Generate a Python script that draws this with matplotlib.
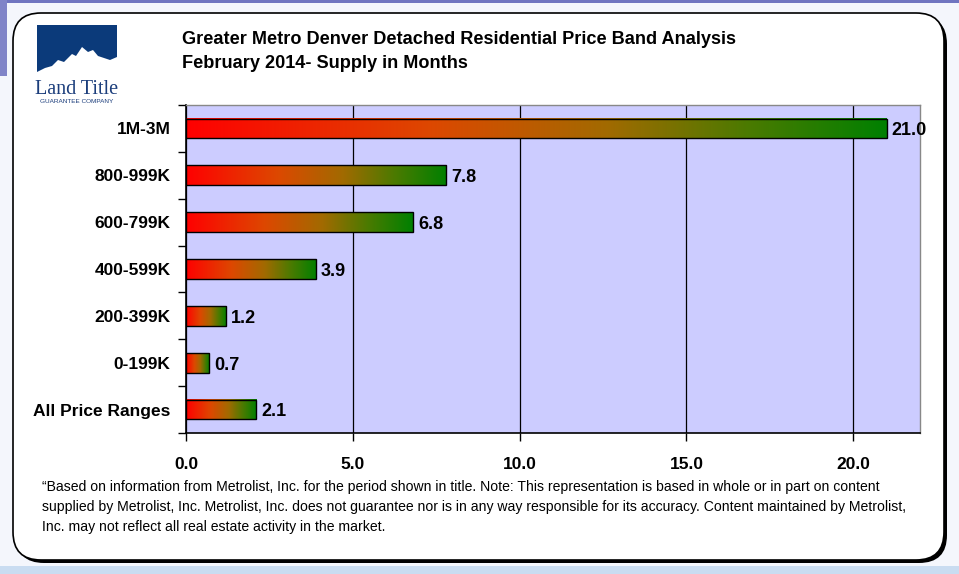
import numpy as np
import matplotlib.pyplot as plt
from matplotlib.patches import FancyBboxPatch, Rectangle, Polygon
from matplotlib.colors import LinearSegmentedColormap

# data
categories = ['1M-3M', '800-999K', '600-799K', '400-599K', '200-399K', '0-199K', 'All Price Ranges']
supply = [21.0, 7.8, 6.8, 3.9, 1.2, 0.7, 2.1]
xticks = [0, 5, 10, 15, 20]

title_lines = ['Greater Metro Denver Detached Residential Price Band Analysis',
               'February 2014- Supply in Months']
footnote = ['\u201cBased on information from Metrolist, Inc. for the period shown in title. Note: This representation is based in whole or in part on content',
            'supplied by Metrolist, Inc. Metrolist, Inc. does not guarantee nor is in any way responsible for its accuracy. Content maintained by Metrolist,',
            'Inc. may not reflect all real estate activity in the market.']

W, H = 959, 574
fig = plt.figure(figsize=(W / 100, H / 100), dpi=100)
fig.patch.set_facecolor('#f4f6fc')

# background frame (figure pixel coords)
bg = fig.add_axes([0, 0, 1, 1])
bg.set_xlim(0, W)
bg.set_ylim(H, 0)
bg.axis('off')
bg.add_patch(Rectangle((0, 0), W, 2.5, color='#7075c0', lw=0))
bg.add_patch(Rectangle((0, 0), 7, 76, color='#8084c8', lw=0))
bg.add_patch(Rectangle((0, 566), W, 8, color='#c9dcf1', lw=0))
# shadow + panel
bg.add_patch(FancyBboxPatch((16, 16), 931, 547, boxstyle='round,pad=0,rounding_size=28',
                            fc='black', ec='black', lw=0))
bg.add_patch(FancyBboxPatch((13, 13), 931, 547, boxstyle='round,pad=0,rounding_size=28',
                            fc='white', ec='black', lw=1.2))

# logo
bg.add_patch(Rectangle((37, 25), 80, 50, color='#0b3a7a', lw=0))
bg.add_patch(Polygon([(37, 75), (37, 72), (45, 68), (52, 66), (58, 60), (64, 62),
                      (72, 54), (76, 56), (82, 47), (88, 52), (93, 50), (98, 56),
                      (104, 58), (110, 60), (117, 57), (117, 75)],
                     closed=True, color='white', lw=0))
bg.text(77, 94, 'Land Title', family='Liberation Serif', fontsize=14.5, color='#1c3e7c',
        ha='center', va='baseline')
bg.text(77, 101.5, 'GUARANTEE COMPANY', family='Liberation Sans', fontsize=4.6,
        color='#1c3e7c', ha='center', va='center')

# titles
for i, line in enumerate(title_lines):
    bg.text(182, 40 + 24 * i, line, family='Liberation Sans', fontweight='bold',
            fontsize=13.1, ha='left', va='center', color='black')

# footnote
for i, line in enumerate(footnote):
    bg.text(42, 487 + 20 * i, line, family='Liberation Sans',
            fontsize=10.1, ha='left', va='center', color='black')

# plot area
left, right, top, bottom = 186, 920, 105, 433
ax = fig.add_axes([left / W, 1 - bottom / H, (right - left) / W, (bottom - top) / H])
ax.set_facecolor('#ccccff')
n = len(categories)

ax.set_xticks(xticks)
ax.set_xticklabels(['%.1f' % t for t in xticks], family='Liberation Sans',
                   fontweight='bold', fontsize=12.5)
ax.set_yticks(np.arange(n))
ax.set_yticklabels(categories, family='Liberation Sans', fontweight='bold', fontsize=12.5)
ax.set_yticks(np.arange(n + 1) - 0.5, minor=True)
ax.tick_params(axis='y', which='major', length=0, pad=11)
ax.tick_params(axis='y', which='minor', length=6, direction='out', width=1)
ax.tick_params(axis='x', length=6, direction='out', width=1, pad=11)
ax.grid(axis='x', color='black', lw=0.9)
ax.set_axisbelow(True)
for s in ['left', 'bottom']:
    ax.spines[s].set_color('black')
    ax.spines[s].set_linewidth(1.2)
for s in ['top', 'right']:
    ax.spines[s].set_color('#888888')
    ax.spines[s].set_linewidth(1.0)

cmap = LinearSegmentedColormap.from_list('rg', [(0, '#ff0000'), (0.35, '#dd4800'),
                                                (0.6, '#a26a00'), (0.8, '#4c7a00'),
                                                (1.0, '#008000')])
grad = np.linspace(0, 1, 256).reshape(1, -1)
bh = 0.42
for i, v in enumerate(supply):
    ax.imshow(grad, cmap=cmap, aspect='auto', extent=[0, v, i + bh / 2, i - bh / 2],
              zorder=2, interpolation='bilinear')
    ax.add_patch(Rectangle((0, i - bh / 2), v, bh, fill=False, ec='black', lw=1.0, zorder=3))
    ax.text(v + 0.15, i + 0.05, '%.1f' % v, family='Liberation Sans', fontweight='bold',
            fontsize=13, ha='left', va='center', zorder=4)
ax.set_xlim(0, 22)
ax.set_ylim(n - 0.5, -0.5)

fig.savefig('out.png', dpi=100, facecolor=fig.get_facecolor())
